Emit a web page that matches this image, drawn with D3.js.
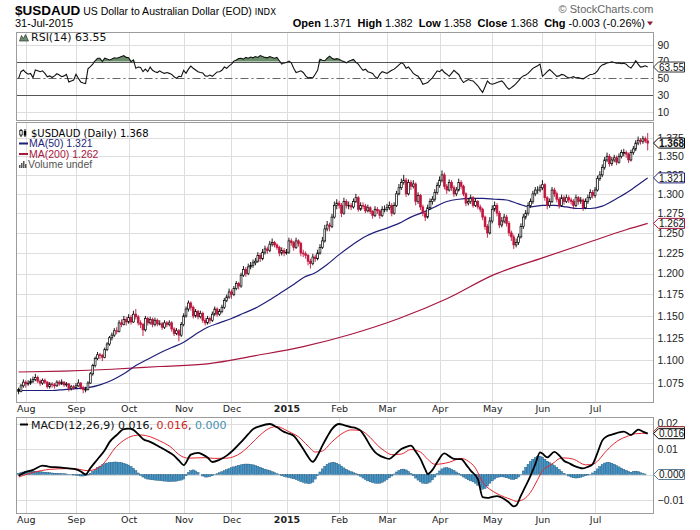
<!DOCTYPE html>
<html><head><meta charset="utf-8">
<script src="https://cdn.jsdelivr.net/npm/d3@7"></script>
<style>body{margin:0;background:#fff}svg{display:block}</style>
</head><body>
<svg id="c" width="700" height="530"></svg>
<script>
// ---------------- DATA ----------------
const open=[1.068,1.066,1.072,
1.076,1.074,1.075,1.077,1.079,1.081,1.077,1.075,1.078,1.076,1.071,1.074,1.073,1.072,1.076,1.074,1.076,1.073,1.074,1.069,1.071,
1.070,1.072,1.075,1.070,1.068,1.068,1.075,1.085,1.094,1.102,1.106,1.105,1.103,1.112,1.118,1.125,1.128,1.133,1.132,1.142,1.140,1.146,
1.143,1.148,1.143,1.152,1.149,1.142,1.140,1.134,1.147,1.142,1.146,1.140,1.145,1.141,1.141,1.137,1.142,1.140,1.142,1.135,1.130,1.133,1.128,
1.140,1.150,1.158,1.165,1.160,1.150,1.155,1.149,1.153,1.145,1.142,1.147,1.145,1.152,1.158,1.152,1.155,1.160,1.168,1.172,
1.178,1.175,1.182,1.188,1.185,1.198,1.205,1.200,1.208,1.210,1.213,1.215,1.222,1.218,1.226,1.230,1.228,1.236,1.238,1.235,1.232,1.225,1.228,
1.225,1.226,1.240,1.238,1.232,1.240,1.237,1.225,1.224,1.222,1.215,1.212,1.220,1.218,1.225,1.232,1.240,1.255,1.260,1.258,1.270,1.285,
1.288,1.285,1.275,1.290,1.285,1.285,1.283,1.290,1.295,1.280,1.285,1.284,1.278,1.282,1.277,1.272,1.280,1.278,1.272,1.280,
1.280,1.282,1.285,1.275,1.285,1.300,1.308,1.315,1.318,1.300,1.315,1.310,1.313,1.290,1.298,1.283,1.275,1.270,1.282,1.290,1.293,1.302,
1.311,1.318,1.325,1.310,1.305,1.315,1.308,1.300,1.305,1.315,1.310,1.300,1.288,1.290,1.295,1.285,1.290,1.283,1.280,1.270,1.258,1.250,
1.265,1.280,1.285,1.275,1.260,1.265,1.270,1.262,1.250,1.245,1.235,1.238,1.245,1.258,1.270,1.275,1.285,1.290,1.300,1.305,1.305,
1.308,1.312,1.295,1.285,1.290,1.305,1.300,1.293,1.285,1.295,1.290,1.295,1.292,1.290,1.285,1.295,1.290,1.292,1.282,1.290,1.295,1.302,
1.298,1.305,1.320,1.325,1.335,1.345,1.350,1.340,1.345,1.348,1.342,1.350,1.355,1.355,1.353,1.345,1.355,1.360,1.368,1.372,1.370,1.374,1.371];
const high=[1.070,1.074,1.079,
1.078,1.078,1.080,1.082,1.085,1.083,1.079,1.080,1.080,1.077,1.076,1.076,1.075,1.078,1.078,1.079,1.077,1.076,1.075,1.073,1.073,
1.075,1.079,1.076,1.072,1.071,1.077,1.087,1.096,1.104,1.109,1.108,1.107,1.114,1.120,1.127,1.131,1.136,1.137,1.145,1.146,1.150,1.149,
1.152,1.151,1.156,1.158,1.151,1.145,1.142,1.150,1.149,1.149,1.148,1.148,1.147,1.145,1.143,1.145,1.144,1.145,1.144,1.137,1.136,1.135,1.143,
1.153,1.161,1.168,1.167,1.162,1.158,1.157,1.156,1.155,1.148,1.150,1.149,1.155,1.161,1.160,1.158,1.163,1.171,1.175,1.182,
1.181,1.185,1.191,1.190,1.201,1.209,1.208,1.212,1.214,1.217,1.219,1.226,1.225,1.230,1.234,1.233,1.240,1.243,1.240,1.237,1.234,1.232,1.231,
1.230,1.244,1.243,1.240,1.244,1.242,1.239,1.229,1.227,1.224,1.218,1.224,1.223,1.229,1.236,1.245,1.260,1.265,1.263,1.274,1.290,1.293,
1.291,1.288,1.295,1.293,1.290,1.288,1.294,1.300,1.297,1.289,1.289,1.287,1.286,1.284,1.279,1.284,1.283,1.280,1.284,1.285,
1.287,1.290,1.288,1.289,1.304,1.313,1.320,1.325,1.321,1.319,1.318,1.318,1.315,1.302,1.300,1.286,1.278,1.286,1.294,1.297,1.306,1.315,
1.323,1.331,1.328,1.313,1.319,1.318,1.311,1.309,1.320,1.318,1.312,1.302,1.294,1.299,1.297,1.294,1.292,1.286,1.282,1.272,1.261,1.270,
1.285,1.290,1.288,1.278,1.270,1.274,1.273,1.265,1.253,1.248,1.243,1.249,1.262,1.274,1.279,1.289,1.294,1.304,1.309,1.310,1.312,
1.318,1.314,1.297,1.294,1.309,1.308,1.303,1.296,1.299,1.298,1.299,1.298,1.295,1.293,1.299,1.297,1.296,1.294,1.294,1.299,1.306,1.305,
1.309,1.324,1.330,1.339,1.349,1.355,1.353,1.349,1.352,1.351,1.354,1.359,1.360,1.358,1.355,1.359,1.364,1.372,1.377,1.375,1.378,1.377,1.382];
const low=[1.063,1.065,1.070,
1.070,1.072,1.073,1.075,1.077,1.075,1.072,1.073,1.074,1.069,1.069,1.070,1.069,1.071,1.072,1.073,1.071,1.071,1.066,1.067,1.068,
1.069,1.071,1.068,1.064,1.065,1.067,1.074,1.083,1.092,1.100,1.101,1.099,1.102,1.110,1.116,1.122,1.126,1.129,1.131,1.137,1.139,1.139,
1.141,1.140,1.142,1.146,1.139,1.136,1.127,1.132,1.139,1.140,1.137,1.138,1.138,1.139,1.134,1.135,1.137,1.138,1.132,1.127,1.128,1.121,1.126,
1.138,1.148,1.155,1.156,1.147,1.148,1.146,1.147,1.142,1.139,1.140,1.141,1.143,1.150,1.149,1.150,1.153,1.158,1.166,1.170,
1.170,1.173,1.180,1.181,1.183,1.196,1.196,1.198,1.205,1.207,1.210,1.213,1.214,1.216,1.223,1.224,1.226,1.233,1.232,1.229,1.221,1.222,1.221,
1.223,1.224,1.234,1.228,1.230,1.233,1.221,1.220,1.218,1.210,1.206,1.210,1.214,1.216,1.223,1.230,1.238,1.252,1.252,1.256,1.268,1.280,
1.281,1.270,1.273,1.281,1.280,1.279,1.281,1.288,1.277,1.278,1.280,1.275,1.276,1.274,1.268,1.270,1.274,1.268,1.270,1.276,
1.277,1.279,1.271,1.273,1.283,1.298,1.305,1.312,1.296,1.298,1.305,1.307,1.285,1.287,1.279,1.271,1.265,1.268,1.279,1.286,1.290,1.299,
1.308,1.315,1.306,1.300,1.303,1.304,1.296,1.297,1.303,1.306,1.297,1.284,1.285,1.287,1.282,1.283,1.280,1.276,1.266,1.254,1.244,1.248,
1.262,1.277,1.271,1.256,1.257,1.262,1.258,1.246,1.240,1.230,1.232,1.235,1.243,1.255,1.267,1.272,1.282,1.287,1.297,1.300,1.302,
1.305,1.291,1.280,1.282,1.288,1.296,1.289,1.281,1.283,1.286,1.288,1.288,1.286,1.280,1.283,1.286,1.287,1.278,1.280,1.287,1.292,1.294,
1.295,1.303,1.317,1.322,1.332,1.342,1.336,1.337,1.342,1.338,1.340,1.347,1.350,1.348,1.341,1.343,1.352,1.357,1.365,1.366,1.367,1.368,1.358];
const close=[1.066,1.072,1.076,
1.074,1.075,1.077,1.079,1.081,1.077,1.075,1.078,1.076,1.071,1.074,1.073,1.072,1.076,1.074,1.076,1.073,1.074,1.069,1.071,1.070,
1.072,1.075,1.070,1.068,1.068,1.075,1.085,1.094,1.102,1.106,1.105,1.103,1.112,1.118,1.125,1.128,1.133,1.132,1.142,1.140,1.146,1.143,
1.148,1.143,1.152,1.149,1.142,1.140,1.134,1.147,1.142,1.146,1.140,1.145,1.141,1.141,1.137,1.142,1.140,1.142,1.135,1.130,1.133,1.128,1.140,
1.150,1.158,1.165,1.160,1.150,1.155,1.149,1.153,1.145,1.142,1.147,1.145,1.152,1.158,1.152,1.155,1.160,1.168,1.172,1.178,
1.175,1.182,1.188,1.185,1.198,1.205,1.200,1.208,1.210,1.213,1.215,1.222,1.218,1.226,1.230,1.228,1.236,1.238,1.235,1.232,1.225,1.228,1.225,
1.226,1.240,1.238,1.232,1.240,1.237,1.225,1.224,1.222,1.215,1.212,1.220,1.218,1.225,1.232,1.240,1.255,1.260,1.258,1.270,1.285,1.288,
1.285,1.275,1.290,1.285,1.285,1.283,1.290,1.295,1.280,1.285,1.284,1.278,1.282,1.277,1.272,1.280,1.278,1.272,1.280,1.280,
1.282,1.285,1.275,1.285,1.300,1.308,1.315,1.318,1.300,1.315,1.310,1.313,1.290,1.298,1.283,1.275,1.270,1.282,1.290,1.293,1.302,1.311,
1.318,1.325,1.310,1.305,1.315,1.308,1.300,1.305,1.315,1.310,1.300,1.288,1.290,1.295,1.285,1.290,1.283,1.280,1.270,1.258,1.250,1.265,
1.280,1.285,1.275,1.260,1.265,1.270,1.262,1.250,1.245,1.235,1.238,1.245,1.258,1.270,1.275,1.285,1.290,1.300,1.305,1.305,1.308,
1.312,1.295,1.285,1.290,1.305,1.300,1.293,1.285,1.295,1.290,1.295,1.292,1.290,1.285,1.295,1.290,1.292,1.282,1.290,1.295,1.302,1.298,
1.305,1.320,1.325,1.335,1.345,1.350,1.340,1.345,1.348,1.342,1.350,1.355,1.355,1.353,1.345,1.355,1.360,1.368,1.372,1.370,1.374,1.371,1.368];

const monthIdx=[3,24,46,69,89,112,134,154,176,198,219,241];
const monthLabels=["Aug","Sep","Oct","Nov","Dec","2015","Feb","Mar","Apr","May","Jun","Jul"];
const priceTicks=[1.075,1.100,1.125,1.150,1.175,1.200,1.225,1.250,1.275,1.300,1.325,1.350,1.375];

const ma50Idx=[0,4,9,14,19,24,29,34,39,44,49,54,59,64,69,74,79,84,89,94,99,104,109,114,119,124,129,134,139,144,149,154,159,164,169,174,179,184,189,194,199,204,209,214,219,224,229,234,239,244,249,254,259,263];
const ma50=[1.067,1.067,1.067,1.067,1.068,1.069,1.070,1.073,1.078,1.085,1.094,1.101,1.108,1.114,1.120,1.129,1.137,1.142,1.147,1.153,1.159,1.167,1.176,1.185,1.195,1.201,1.211,1.223,1.234,1.244,1.251,1.256,1.262,1.270,1.276,1.283,1.290,1.293,1.294,1.294,1.293,1.292,1.287,1.283,1.285,1.285,1.283,1.281,1.281,1.284,1.292,1.301,1.312,1.321];
const ma200Idx=[0,19,39,59,79,99,119,139,159,179,199,219,239,254,263];
const ma200=[1.087,1.088,1.090,1.093,1.096,1.105,1.115,1.129,1.147,1.170,1.199,1.219,1.239,1.254,1.262];

const rsi=[50,58,60,57,55,56,51,60,59,58,
59,56,52,53,51,53,55.5,54,52,53,
54.7,45.7,47,48,55,50,45.7,44.5,43.8,61.4,
64,67,71,74,74,70,74,73,72,73,
74.5,74,75,76,77,75,74.5,70,72,62,
63.5,63,58,61,58,63.5,59.6,58,57,59,
57,56,57,56,54.7,52,50,52.5,52,59.6,
56,61,64.7,62,60,58,57,56.5,53,52.5,
54,52.5,55,57.7,58,59.6,63.5,62,65,67,
70.6,72,73.7,74,73,75,74,75.5,74.5,76,
75,77.2,76,75,74.5,76,75,74,75,71,
67,68.5,69,70.6,68.5,62,57,58,59,57,
53,50.6,51,50.6,55,59.6,72.7,71.5,71,74,
76.5,74,72.7,73.5,72.7,71,70,68.5,70.4,71.5,
72.7,69,67,63,59.6,61,58,57,56,52,
50,55,58,57,56,58,59.6,61,63.5,66,
68.5,67,62,63.5,60,56,54,52.5,48.6,43,
44,45,48,50.6,55,59,58,60.5,57,55,
52.5,56,59.6,57,54.7,49,45,47,48.6,47.5,
47,44,41.2,37,33.3,40,47,44,43,44,
45,46,47,44,40,37,39,41.2,44,47,
50.6,53,54,56,59,62,63.5,65,67,52.5,
55,58,60.5,58,55,52.5,53,54.7,54,52,
50.6,51,52,50.6,51,50,49.5,51,53,54.7,
55,56,59,63.5,66,67,68.5,69,69.8,69,
68,68.5,67.5,68,67,64,62.4,66,71,67,
63.5,64,65,63.55];
const rsiTicks=[90,70,50,30,10];

const macdIdx=[0,3,6,10,13,17,21,24,26,28,30,33,36,38,41,44,46,48,50,52,55,59,62,65,67,69,72,75,77,79,81,84,87,90,93,96,98,101,105,108,111,113,115,117,119,121,123,125,127,129,131,134,136,139,141,143,145,147,149,151,153,155,157,160,162,164,166,168,170,171,173,175,178,180,182,185,187,189,192,194,196,198,200,203,205,207,208,210,212,214,216,218,219,221,224,226,228,230,232,234,236,238,240,242,244,246,249,251,253,256,258,259,261,263];
const macd=[-0.0005,0.001,0.0018,0.0035,0.003,0.0028,0.0024,0.002,0.0012,0.0,0.0025,0.006,0.0095,0.0127,0.0155,0.0178,0.018,0.0175,0.0158,0.0139,0.0128,0.0108,0.0092,0.0074,0.0055,0.0037,0.0078,0.0085,0.0078,0.0067,0.0049,0.0058,0.0074,0.0098,0.0127,0.0158,0.0178,0.019,0.0198,0.0185,0.0167,0.016,0.0152,0.0128,0.010,0.007,0.005,0.0075,0.0113,0.0148,0.0178,0.0198,0.0194,0.0186,0.0182,0.0172,0.0145,0.0113,0.0088,0.0074,0.0066,0.0061,0.0075,0.010,0.0108,0.0113,0.009,0.0061,0.002,0.0002,0.0018,0.0048,0.0083,0.0072,0.0061,0.006,0.004,0.0015,-0.0018,-0.0089,-0.0092,-0.0088,-0.0085,-0.0096,-0.011,-0.0125,-0.0122,-0.0083,-0.0045,-0.0005,0.004,0.0087,0.0082,0.0067,0.0089,0.0075,0.0054,0.0045,0.0035,0.0028,0.0024,0.003,0.0041,0.0085,0.0133,0.015,0.0159,0.0165,0.0168,0.0155,0.017,0.0176,0.0168,0.016];
const signalIdx=[0,6,13,20,24,29,34,37,40,44,48,51,55,59,63,68,71,74,78,82,87,93,97,101,105,108,111,113,117,121,124,127,131,136,139,143,147,150,153,156,160,164,168,171,174,177,180,185,188,191,194,197,200,203,206,208,211,214,217,219,222,224,226,228,232,237,240,242,245,247,251,254,258,263];
const signal=[-0.001,0.0008,0.002,0.0023,0.0022,0.0015,0.003,0.006,0.010,0.0134,0.0152,0.0155,0.0148,0.0132,0.0112,0.0072,0.0064,0.0065,0.0066,0.0063,0.0064,0.0085,0.0118,0.0155,0.0182,0.0188,0.0178,0.0168,0.0148,0.0112,0.0088,0.0092,0.0128,0.0165,0.0175,0.0172,0.0145,0.0115,0.0092,0.0078,0.008,0.0098,0.0088,0.006,0.004,0.0042,0.0048,0.0063,0.0052,0.0025,-0.003,-0.0058,-0.0075,-0.0088,-0.0098,-0.0105,-0.0098,-0.007,-0.002,0.0015,0.0035,0.0048,0.0062,0.0065,0.006,0.0038,0.004,0.0052,0.0085,0.0105,0.0135,0.0148,0.016,0.0162];
const hist=[0.0005,0.0008,0.001,0.0012,0.0013,0.0014,0.0014,0.0013,0.0012,0.0011,
0.001,0.0009,0.0008,0.0007,0.0006,0.0005,0.0005,0.0004,0.0004,0.0003,
0.0002,0.0001,-0.0001,-0.0002,-0.0003,-0.0004,-0.0006,-0.0006,-0.0005,-0.0002,
0.0005,0.0012,0.002,0.0027,0.0033,0.0038,0.0042,0.0045,0.0047,0.0048,
0.0049,0.0049,0.0048,0.0046,0.0044,0.0041,0.0037,0.0031,0.0024,0.0015,
0.0006,-0.0003,-0.001,-0.0015,-0.0018,-0.002,-0.0021,-0.0022,-0.0023,-0.0024,
-0.0025,-0.0026,-0.0027,-0.0028,-0.0028,-0.0027,-0.0026,-0.0024,-0.0022,-0.0018,
-0.0005,0.0008,0.0015,0.0018,0.0014,0.0008,0.0,-0.0006,-0.001,-0.001,
-0.0008,-0.0005,-0.0001,0.0003,0.0007,0.0011,0.0015,0.0019,0.0023,0.0027,
0.003,0.0033,0.0036,0.0038,0.004,0.0041,0.0041,0.004,0.0038,0.0035,
0.0032,0.0028,0.0025,0.0021,0.0018,0.0015,0.0011,0.0007,0.0003,-0.0001,
-0.0005,-0.0008,-0.001,-0.0012,-0.0014,-0.0017,-0.002,-0.0024,-0.0028,-0.0031,
-0.0034,-0.0036,-0.0035,-0.003,-0.0018,-0.0004,0.001,0.0022,0.0032,0.004,
0.0045,0.0048,0.0047,0.0044,0.0039,0.0033,0.0026,0.002,0.0015,0.0011,
0.0007,0.0003,-0.0002,-0.0008,-0.0014,-0.002,-0.0025,-0.0029,-0.0032,-0.0034,
-0.0035,-0.0034,-0.0031,-0.0026,-0.002,-0.0013,-0.0006,0.0002,0.001,0.0016,
0.002,0.0021,0.0018,0.0012,0.0004,-0.0005,-0.0014,-0.0022,-0.0029,-0.0034,
-0.0036,-0.0035,-0.003,-0.0021,-0.001,0.0003,0.0014,0.0022,0.0026,0.0027,
0.0025,0.0021,0.0016,0.001,0.0004,-0.0003,-0.001,-0.0016,-0.0021,-0.0025,
-0.0029,-0.0035,-0.0042,-0.005,-0.0058,-0.0055,-0.0045,-0.0034,-0.0025,-0.0018,
-0.0012,-0.001,-0.0009,-0.001,-0.0013,-0.0016,-0.0019,-0.002,-0.0017,-0.001,
0.0001,0.0014,0.0028,0.004,0.0051,0.006,0.0067,0.0071,0.0072,0.0068,
0.006,0.0052,0.0046,0.0041,0.0035,0.0028,0.002,0.0012,0.0005,-0.0001,
-0.0006,-0.001,-0.0013,-0.0014,-0.0013,-0.0011,-0.0008,-0.0005,-0.0002,0.0001,
0.0006,0.0013,0.0022,0.0031,0.0039,0.0045,0.0048,0.0047,0.0044,0.004,
0.0035,0.003,0.0025,0.002,0.0016,0.0012,0.0009,0.0012,0.0013,0.0011,
0.0007,0.0004,0.0002,0.0];
const macdTicks=[0.02,0.01,-0.01];
const macdGrid=[0.02,0.01,0,-0.01];

// ---------------- DRAW ----------------
const FA="'Liberation Sans', Arial, sans-serif";
const FV="'DejaVu Sans', Verdana, sans-serif";
const RED="#c0143c", NAVY="#1f1f7a", CRIM="#a8173f", GRID="#dddddd", BORDER="#9c9c9c";
const svg=d3.select("#c");
svg.append("rect").attr("width",700).attr("height",530).attr("fill","#fff");
const L=16.5, R=653.5, N=close.length;
const P={rsi:[32.5,120.5], price:[122.5,402.5], macd:[417.5,513.5]};
const x=d3.scaleLinear().domain([0,N-1]).range([18.6,647.7]);
const yR=d3.scaleLinear().domain([0,100]).range([120.4,36.4]);
const yP=d3.scaleLog().domain([1.0542,1.3966]).range([402.5,122.5]);
const yM=d3.scaleLinear().domain([-0.01,0.02]).range([500,423.5]);
const defs=svg.append("defs");
Object.entries(P).forEach(([k,[t,b]])=>{
  defs.append("clipPath").attr("id","clip-"+k).append("rect").attr("x",L).attr("y",t).attr("width",R-L).attr("height",b-t);
});

function panelFrame(k, hvals, yfn){
  const [t,b]=P[k];
  const g=svg.append("g");
  g.selectAll("line.v").data(monthIdx).join("line")
    .attr("x1",i=>Math.round(x(i))+0.5).attr("x2",i=>Math.round(x(i))+0.5)
    .attr("y1",t).attr("y2",b).attr("stroke",GRID);
  g.selectAll("line.h").data(hvals).join("line")
    .attr("x1",L).attr("x2",R).attr("y1",d=>Math.round(yfn(d))+0.5).attr("y2",d=>Math.round(yfn(d))+0.5)
    .attr("stroke",GRID);
  return g;
}
panelFrame("rsi",[90,10],yR);
panelFrame("price",priceTicks,yP);
panelFrame("macd",macdGrid,yM);

// RSI reference lines
const gr=svg.append("g");
[70,30].forEach(v=>gr.append("line").attr("x1",L).attr("x2",R).attr("y1",Math.round(yR(v))+0.5).attr("y2",Math.round(yR(v))+0.5).attr("stroke","#555"));
gr.append("line").attr("x1",L).attr("x2",R).attr("y1",Math.round(yR(50))+0.5).attr("y2",Math.round(yR(50))+0.5).attr("stroke","#666").attr("stroke-dasharray","8,3,2,3");

// RSI fill and line
const gRsi=svg.append("g").attr("clip-path","url(#clip-rsi)");
gRsi.append("path").datum(rsi).attr("fill","#6b8e6b")
  .attr("d",d3.area().x((d,i)=>x(i)).y0(yR(70)).y1(d=>yR(Math.max(d,70))));
gRsi.append("path").datum(rsi).attr("fill","#6b8e6b")
  .attr("d",d3.area().x((d,i)=>x(i)).y0(yR(30)).y1(d=>yR(Math.min(d,30))));
gRsi.append("path").datum(rsi).attr("fill","none").attr("stroke","#111").attr("stroke-width",1.1)
  .attr("d",d3.line().x((d,i)=>x(i)).y(d=>yR(d)));

// Price: MAs
const gP=svg.append("g").attr("clip-path","url(#clip-price)");
gP.append("path").datum(ma200Idx.map((i,k)=>[i,ma200[k]])).attr("fill","none").attr("stroke",CRIM).attr("stroke-width",1.2)
  .attr("d",d3.line().curve(d3.curveMonotoneX).x(d=>x(d[0])).y(d=>yP(d[1])));
gP.append("path").datum(ma50Idx.map((i,k)=>[i,ma50[k]])).attr("fill","none").attr("stroke",NAVY).attr("stroke-width",1.2)
  .attr("d",d3.line().curve(d3.curveMonotoneX).x(d=>x(d[0])).y(d=>yP(d[1])));
// candles
const idx=d3.range(N);
const col=i=>(i>0&&close[i]<close[i-1])?RED:"#000";
gP.selectAll("line.wick").data(idx).join("line").attr("class","wick")
  .attr("x1",i=>x(i)).attr("x2",i=>x(i)).attr("y1",i=>yP(high[i])).attr("y2",i=>yP(low[i]))
  .attr("stroke",col).attr("stroke-width",0.9);
gP.selectAll("rect.body").data(idx).join("rect").attr("class","body")
  .attr("x",i=>x(i)-0.9).attr("width",1.8)
  .attr("y",i=>yP(Math.max(open[i],close[i])))
  .attr("height",i=>Math.max(0.6,Math.abs(yP(open[i])-yP(close[i]))))
  .attr("fill",i=>close[i]<open[i]?col(i):"#fff")
  .attr("stroke",col).attr("stroke-width",0.7);

// MACD
const gM=svg.append("g").attr("clip-path","url(#clip-macd)");
gM.selectAll("rect.h").data(idx).join("rect")
  .attr("x",i=>x(i)-1.1).attr("width",2.2)
  .attr("y",i=>Math.min(yM(0),yM(hist[i])))
  .attr("height",i=>Math.abs(yM(hist[i])-yM(0)))
  .attr("fill","#4596c8").attr("stroke","#1d4f73").attr("stroke-width",0.4);
gM.append("path").datum(signalIdx.map((i,k)=>[i,signal[k]])).attr("fill","none").attr("stroke","#e3262e").attr("stroke-width",1)
  .attr("d",d3.line().curve(d3.curveMonotoneX).x(d=>x(d[0])).y(d=>yM(d[1])));
gM.append("path").datum(macdIdx.map((i,k)=>[i,macd[k]])).attr("fill","none").attr("stroke","#000").attr("stroke-width",1.8)
  .attr("d",d3.line().curve(d3.curveMonotoneX).x(d=>x(d[0])).y(d=>yM(d[1])));

// Panel borders
Object.values(P).forEach(([t,b])=>svg.append("rect").attr("x",L).attr("y",t).attr("width",R-L).attr("height",b-t).attr("fill","none").attr("stroke",BORDER));

// Right axes
function rightAxis(scale, ticks, fmt){
  svg.append("g").attr("transform",`translate(${R},0)`)
    .call(d3.axisRight(scale).tickValues(ticks).tickSize(0).tickPadding(4).tickFormat(fmt))
    .call(g=>g.select(".domain").remove())
    .selectAll("text").attr("font-family",FA).attr("font-size",10.5).attr("fill","#222");
}
rightAxis(yP,priceTicks,d3.format(".3f"));
rightAxis(yR,rsiTicks,d3.format("d"));
rightAxis(yM,macdTicks,d3.format(".2f"));

// Month axes
function monthAxis(y){
  const g=svg.append("g").attr("transform",`translate(0,${y})`)
    .call(d3.axisBottom(x).tickValues(monthIdx).tickSize(0).tickPadding(0).tickFormat((d,k)=>monthLabels[k]));
  g.select(".domain").remove();
  g.selectAll("text").attr("font-family",FV).attr("font-size",9.5).attr("fill","#222")
    .attr("font-weight",(d,k)=>monthLabels[k]==="2015"?"bold":"normal");
}
monthAxis(405.5);
monthAxis(516);

// Tags
function tagShape(y, stroke){
  return svg.append("path").attr("d",`M${R},${y} L${R+5},${y-5} L${R+31},${y-5} L${R+31},${y+5} L${R+5},${y+5} Z`)
    .attr("fill","#fff").attr("stroke",stroke).attr("stroke-width",1);
}
function tag(y, txt, stroke, bold){
  tagShape(y, stroke);
  svg.append("text").attr("x",R+5.5).attr("y",y+3.6).text(txt).attr("font-family",FA)
    .attr("font-size",10).attr("font-weight",bold?"bold":"normal").attr("fill","#111");
}
tag(yR(rsi[N-1]),"63.55","#333",false);
tag(yP(ma200[ma200.length-1]),"1.262",CRIM,false);
tag(yP(ma50[ma50.length-1]),"1.321",NAVY,false);
tag(yP(close[N-1]),"1.368","#000",true);
tagShape(yM(signal[signal.length-1])-1.5,"#8b1a1a");
tag(yM(macd[macd.length-1]),"0.016","#000",false);
tag(yM(hist[N-1]),"0.000","#5a7d99",false);

// Header
const hdr=svg.append("text").attr("x",15).attr("y",15).attr("font-family",FA).attr("fill","#000");
hdr.append("tspan").text("$USDAUD").attr("font-weight","bold").attr("font-size",13.5);
hdr.append("tspan").text(" US Dollar to Australian Dollar (EOD) ").attr("font-size",10.5);
hdr.append("tspan").text("INDX").attr("font-size",8.5).attr("font-family",FV);
svg.append("text").attr("x",15).attr("y",27).text("31-Jul-2015").attr("font-family",FA).attr("font-size",11);
svg.append("text").attr("x",R).attr("y",13).attr("text-anchor","end").text("\u00A9 StockCharts.com")
  .attr("font-family",FA).attr("font-size",11).attr("fill","#666");
const ohlc=svg.append("text").attr("x",645).attr("y",27).attr("text-anchor","end").attr("font-family",FA).attr("font-size",11).style("white-space","pre");
[["Open"," 1.371  "],["High"," 1.382  "],["Low"," 1.358  "],["Close"," 1.368  "],["Chg"," -0.003 (-0.26%)"]].forEach(([a,b])=>{
  ohlc.append("tspan").text(a).attr("font-weight","bold");
  ohlc.append("tspan").text(b);
});
svg.append("path").attr("d","M647,21.5 L653,21.5 L650,25.5 Z").attr("fill","#8b1a3a");

// Legends
// RSI
svg.append("path").attr("d","M19.5,41 L21.5,35.5 L23.5,38.5 L25.5,34.5 L28.5,41 Z").attr("fill","#6b8e6b").attr("stroke","#333").attr("stroke-width",0.7);
svg.append("text").attr("x",31).attr("y",41).text("RSI(14) 63.55").attr("font-family",FV).attr("font-size",11).attr("fill","#111");
// Price
const gi=svg.append("g");
gi.append("line").attr("x1",21).attr("x2",21).attr("y1",129).attr("y2",137).attr("stroke","#000");
gi.append("rect").attr("x",19.8).attr("y",130.5).attr("width",2.4).attr("height",4.5).attr("fill","#fff").attr("stroke","#000").attr("stroke-width",0.8);
gi.append("line").attr("x1",25).attr("x2",25).attr("y1",129).attr("y2",137).attr("stroke","#000");
gi.append("rect").attr("x",23.8).attr("y",131).attr("width",2.4).attr("height",4.5).attr("fill","#000");
svg.append("text").attr("x",31).attr("y",137).text("$USDAUD (Daily) 1.368").attr("font-family",FV).attr("font-size",10).attr("fill","#000");
svg.append("line").attr("x1",19).attr("x2",28).attr("y1",143.5).attr("y2",143.5).attr("stroke",NAVY).attr("stroke-width",2);
svg.append("text").attr("x",29).attr("y",147).text("MA(50) 1.321").attr("font-family",FA).attr("font-size",10.5).attr("fill",NAVY);
svg.append("line").attr("x1",19).attr("x2",28).attr("y1",154).attr("y2",154).attr("stroke",CRIM).attr("stroke-width",2);
svg.append("text").attr("x",29).attr("y",157.5).text("MA(200) 1.262").attr("font-family",FA).attr("font-size",10.5).attr("fill",CRIM);
[[19,3],[21,5],[23,7],[25,4]].forEach(([bx,h])=>svg.append("rect").attr("x",bx).attr("y",168-h).attr("width",1.5).attr("height",h).attr("fill","#555"));
svg.append("text").attr("x",28).attr("y",168).text("Volume undef").attr("font-family",FA).attr("font-size",10.5).attr("fill","#555");
// MACD
svg.append("line").attr("x1",20).attr("x2",28).attr("y1",424.5).attr("y2",424.5).attr("stroke","#000").attr("stroke-width",2);
const ml=svg.append("text").attr("x",31).attr("y",428.5).attr("font-family",FV).attr("font-size",11);
ml.append("tspan").text("MACD(12,26,9) 0.016, ").attr("fill","#111");
ml.append("tspan").text("0.016").attr("fill","#cc1f1f");
ml.append("tspan").text(", ").attr("fill","#111");
ml.append("tspan").text("0.000").attr("fill","#3f8fb0");
</script>
</body></html>
